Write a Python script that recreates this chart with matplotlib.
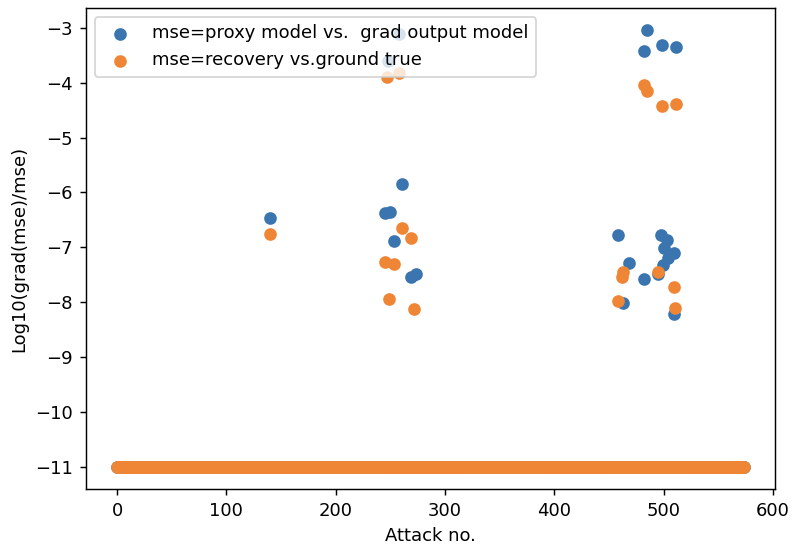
import numpy as np
import matplotlib
matplotlib.use('Agg')
import matplotlib.pyplot as plt

# number of attacks (0 .. 573), values that hit the floor sit at -11
n_attacks = 574
floor_value = -11.0

# attacks where the proxy-vs-grad mse is above the floor
proxy_idx = [140, 245, 248, 250, 253, 258, 261, 269, 273,
             458, 463, 468, 482, 482, 485, 495, 497, 498, 499,
             500, 503, 504, 509, 509, 511]
proxy_val = [-6.46, -6.37, -3.60, -6.35, -6.88, -3.12, -5.84, -7.53, -7.48,
             -6.78, -8.02, -7.29, -3.42, -7.57, -3.04, -7.49, -6.78, -3.31, -7.32,
             -7.02, -6.87, -7.20, -7.11, -8.22, -3.36]

# attacks where the recovery-vs-ground-truth mse is above the floor
recov_idx = [140, 245, 247, 249, 253, 258, 261, 269, 272,
             458, 462, 463, 482, 485, 495, 498, 509, 510, 511]
recov_val = [-6.75, -7.27, -3.90, -7.94, -7.30, -3.83, -6.64, -6.82, -8.13,
             -7.97, -7.54, -7.44, -4.05, -4.15, -7.45, -4.43, -7.72, -8.10, -4.39]

attack_no = np.arange(n_attacks)
proxy_mse = np.full(n_attacks, floor_value)
recov_mse = np.full(n_attacks, floor_value)

# separate entries (several share an attack index once rounded)
proxy_x = np.concatenate([attack_no, proxy_idx])
proxy_y = np.concatenate([proxy_mse, proxy_val])
recov_x = np.concatenate([attack_no, recov_idx])
recov_y = np.concatenate([recov_mse, recov_val])

fig = plt.figure(figsize=(792 / 130, 545 / 130), dpi=130)
ax = fig.add_axes([0.1082, 0.1028, 0.8703, 0.8825])

ax.scatter(proxy_x, proxy_y, color='#3a75af', label='mse=proxy model vs.  grad output model')
ax.scatter(recov_x, recov_y, color='#ef8636', label='mse=recovery vs.ground true')

ax.set_xlabel('Attack no.')
ax.set_ylabel('Log10(grad(mse)/mse)')
ax.set_xticks([0, 100, 200, 300, 400, 500, 600])
ax.set_yticks(np.arange(-11, -2))
ax.legend(loc='upper left')

plt.savefig('out.png', dpi=130)
